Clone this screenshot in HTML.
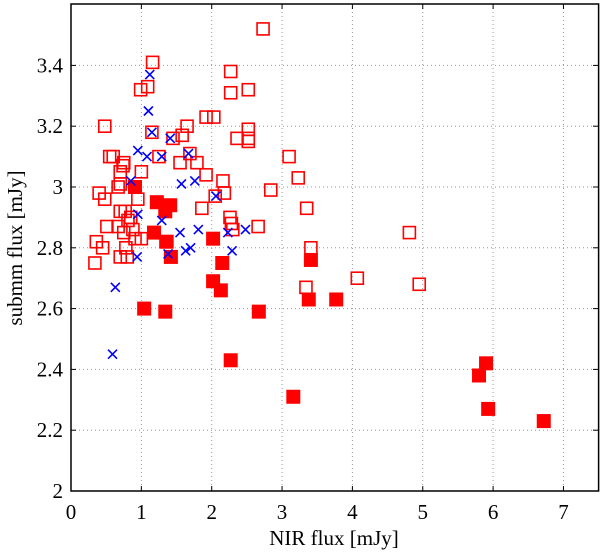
<!DOCTYPE html>
<html><head><meta charset="utf-8"><style>
body{margin:0;background:#fff;}
svg{display:block;font-family:"Liberation Serif",serif;}
</style></head><body>
<svg width="600" height="552" viewBox="0 0 600 552">
<g id="grid"></g>
<g id="marks"></g>
<rect x="71" y="4" width="527.6" height="487" fill="none" stroke="#000" stroke-width="1.5"/>
<g id="ticks"></g>
<text x="334" y="545" font-size="21" text-anchor="middle">NIR flux [mJy]</text>
<text transform="translate(22,248) rotate(-90)" font-size="21" text-anchor="middle">submm flux [mJy]</text>
</svg>
<script>
const xTicks=[0,1,2,3,4,5,6,7];
const yTicks=[2,2.2,2.4,2.6,2.8,3,3.2,3.4];
const yTickLabels=["2","2.2","2.4","2.6","2.8","3","3.2","3.4"];
const openX=[2.73,1.16,0.99,1.09,0.48,1.15,1.45,1.58,1.65,1.92,2.03,0.55,0.6,0.75,0.74,0.70,1.0,1.25,1.55,1.69,1.79,1.92,2.16,2.18,2.05,1.86,0.4,0.48,0.67,0.70,0.95,0.51,0.70,0.77,0.81,0.85,0.67,0.75,0.88,0.91,1.0,0.36,0.45,0.34,0.70,0.80,0.78,1.35,2.26,2.28,2.30,2.66,2.27,2.27,2.52,2.52,2.52,2.52,2.36,3.10,3.23,2.84,3.35,3.41,3.34,4.07,4.95,4.81];
const openY=[3.52,3.41,3.32,3.33,3.20,3.18,3.16,3.17,3.20,3.23,3.23,3.10,3.10,3.08,3.07,3.05,3.05,3.10,3.08,3.11,3.08,3.04,3.02,2.98,2.97,2.93,2.98,2.96,3.0,3.01,2.96,2.87,2.92,2.92,2.89,2.90,2.87,2.85,2.86,2.83,2.83,2.82,2.80,2.75,2.77,2.77,2.80,2.82,2.90,2.88,2.86,2.87,3.38,3.31,3.32,3.19,3.16,3.15,3.16,3.10,3.03,2.99,2.93,2.80,2.67,2.70,2.68,2.85];
const filledX=[0.91,1.22,1.41,1.34,1.18,1.36,1.42,2.02,2.15,2.02,2.13,3.41,1.04,1.34,2.67,3.38,3.77,2.27,3.16,5.80,5.90,5.93,6.72];
const filledY=[3.0,2.95,2.94,2.92,2.85,2.82,2.77,2.83,2.75,2.69,2.66,2.76,2.60,2.59,2.59,2.63,2.63,2.43,2.31,2.38,2.42,2.27,2.23];
const crossX=[1.12,1.10,1.15,0.95,1.08,1.29,1.41,1.67,1.57,1.76,0.85,0.95,1.29,1.55,1.81,2.06,2.23,2.48,1.70,1.63,2.29,0.94,1.38,0.63,0.59];
const crossY=[3.37,3.25,3.18,3.12,3.10,3.10,3.16,3.11,3.01,3.02,3.02,2.91,2.89,2.85,2.86,2.97,2.85,2.86,2.80,2.79,2.79,2.77,2.78,2.67,2.45];
const NS="http://www.w3.org/2000/svg";
const X0=71,XS=70.35,Y0=491,YS=304;
function sx(v){return X0+v*XS;}
function sy(v){return Y0-(v-2)*YS;}
function mk(tag,attrs,parent){const e=document.createElementNS(NS,tag);for(const k in attrs)e.setAttribute(k,attrs[k]);parent.appendChild(e);return e;}
const grid=document.getElementById('grid'),ticks=document.getElementById('ticks'),marks=document.getElementById('marks');
xTicks.forEach((t,i)=>{
  const x=sx(t);
  if(t>0){const g=mk('line',{x1:x,y1:4,x2:x,y2:491,stroke:'#999','stroke-dasharray':'1,3','stroke-width':1},grid);
  
  }
  const a=mk('line',{x1:x,y1:491,x2:x,y2:486,stroke:'#000'},ticks);
  
  
  const b=mk('line',{x1:x,y1:4,x2:x,y2:9,stroke:'#000'},ticks);
  
  
  const l=mk('text',{x:x,y:519,'font-size':21,'text-anchor':'middle'},ticks);l.textContent=String(t);
  
  
});
yTicks.forEach((t,i)=>{
  const y=sy(t);
  if(t>2){const g=mk('line',{x1:71,y1:y,x2:598,y2:y,stroke:'#999','stroke-dasharray':'1,3','stroke-width':1},grid);
  
  }
  const a=mk('line',{x1:71,y1:y,x2:76,y2:y,stroke:'#000'},ticks);
  
  
  const b=mk('line',{x1:598,y1:y,x2:593,y2:y,stroke:'#000'},ticks);
  
  
  const l=mk('text',{x:63,y:y+7,'font-size':21,'text-anchor':'end'},ticks);l.textContent=yTickLabels[i];
  
  
});
openX.forEach((v,i)=>{
  const r=mk('rect',{x:sx(v)-6,y:sy(openY[i])-6,width:12,height:12,fill:'none',stroke:'#f00','stroke-width':1.6},marks);
  
  
});
filledX.forEach((v,i)=>{
  const r=mk('rect',{x:sx(v)-6.5,y:sy(filledY[i])-6.5,width:13,height:13,fill:'#f00',stroke:'#f00','stroke-width':1},marks);
  
  
});
crossX.forEach((v,i)=>{
  const x=sx(v),y=sy(crossY[i]);
  const p=mk('path',{d:`M${x-4.5},${y-4.5}L${x+4.5},${y+4.5}M${x-4.5},${y+4.5}L${x+4.5},${y-4.5}`,stroke:'#00f','stroke-width':1.6,fill:'none'},marks);
  
  
});
</script>
</body></html>
